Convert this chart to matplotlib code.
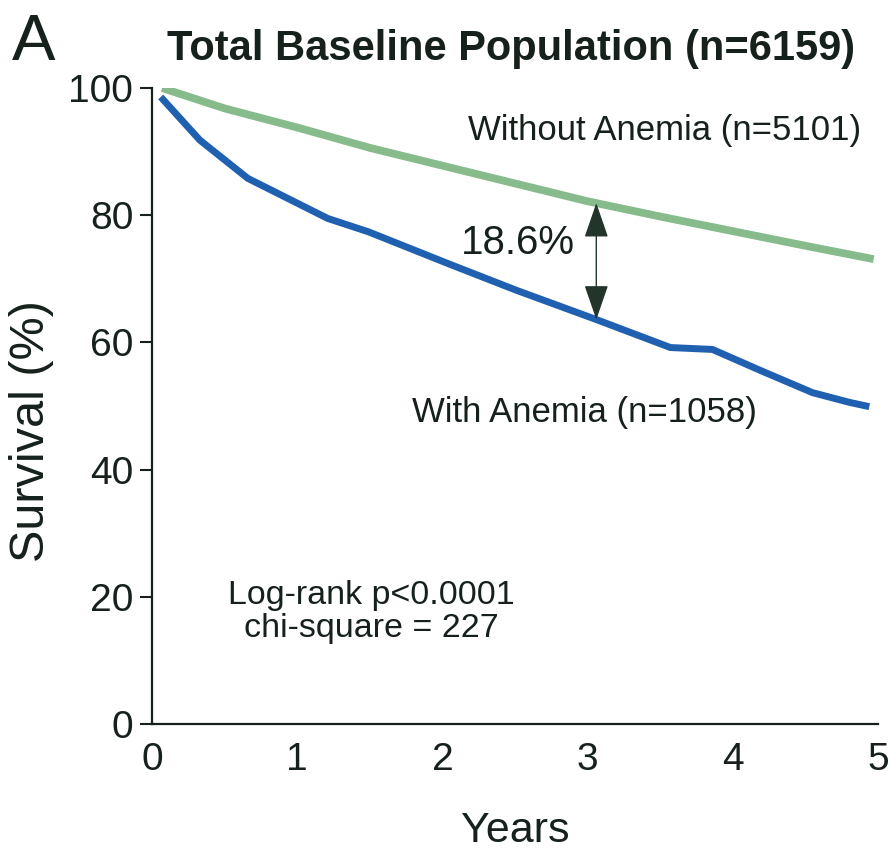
import numpy as np
import matplotlib
matplotlib.use("Agg")
import matplotlib.pyplot as plt

plt.rcParams['font.family'] = ['Liberation Sans', 'DejaVu Sans']

# Kaplan-Meier style survival estimates (%), by years of follow-up
years_no_anemia = [0.07, 0.5, 1.0, 1.5, 2.0, 2.5, 3.0, 3.5, 4.0, 4.5, 4.97]
surv_no_anemia = [100.0, 96.8, 93.8, 90.6, 87.8, 85.0, 82.2, 79.8, 77.5, 75.2, 73.1]

years_anemia = [0.06, 0.33, 0.66, 1.21, 1.49, 2.05, 2.51, 3.06, 3.57, 3.86, 4.2, 4.55, 4.8, 4.94]
surv_anemia = [98.6, 91.8, 85.8, 79.5, 77.4, 72.3, 68.2, 63.6, 59.2, 58.9, 55.5, 52.1, 50.6, 49.9]

x_ticks = [0, 1, 2, 3, 4, 5]
y_ticks = [0, 20, 40, 60, 80, 100]

gap_year = 3.06
gap_label = "18.6%"

green = '#87bb8b'
blue = '#1f60b0'
ink = '#16211b'

fig = plt.figure(figsize=(8.92, 8.5), dpi=100)
ax = fig.add_axes([0.1704, 0.1482, 0.8139, 0.7482])

ax.plot(years_no_anemia, surv_no_anemia, color=green, lw=5.6, solid_capstyle='butt')
ax.plot(years_anemia, surv_anemia, color=blue, lw=5.0, solid_capstyle='butt')

ax.set_xlim(0, 5)
ax.set_ylim(0, 100)
ax.set_xticks(x_ticks)
ax.set_yticks(y_ticks)
ax.tick_params(axis='x', length=0, pad=13, labelsize=28, labelcolor=ink)
ax.tick_params(axis='y', length=8.5, width=1.5, pad=5, labelsize=28,
               labelcolor=ink, color=ink)
for side in ('top', 'right'):
    ax.spines[side].set_visible(False)
for side in ('left', 'bottom'):
    ax.spines[side].set_linewidth(1.6)
    ax.spines[side].set_color(ink)
ax.spines['left'].set_zorder(1)

ax.set_xlabel('Years', fontsize=31, color=ink, labelpad=24)
fig.text(32 / 892, 1 - 431 / 850, 'Survival (%)', fontsize=35, color=ink,
         rotation=90, ha='center', va='center')

# difference arrow between the two curves
g_top = np.interp(gap_year, years_no_anemia, surv_no_anemia)
b_bot = np.interp(gap_year, years_anemia, surv_anemia)
ax.annotate('', xy=(gap_year, g_top), xytext=(gap_year, b_bot),
            arrowprops=dict(arrowstyle='<|-|>,head_length=1.1,head_width=0.38',
                            lw=1.0, color='#22352b', shrinkA=0, shrinkB=0,
                            mutation_scale=20))
ax.text(2.52, 75.6, gap_label, fontsize=29, color=ink, ha='center', va='center')

ax.text(3.53, 93.4, 'Without Anemia (n=5101)', fontsize=25, color=ink,
        ha='center', va='center')
ax.text(2.98, 49.0, 'With Anemia (n=1058)', fontsize=25, color=ink,
        ha='center', va='center')
ax.text(1.51, 17.6, 'Log-rank p<0.0001\nchi-square = 227', fontsize=24.5,
        color=ink, ha='center', va='center', linespacing=1.1)

fig.text(511 / 892, 1 - 60 / 850, 'Total Baseline Population (n=6159)',
         fontsize=30, fontweight='bold', color=ink, ha='center', va='baseline')
fig.text(12 / 892, 1 - 60 / 850, 'A', fontsize=47, color=ink,
         ha='left', va='baseline')

fig.savefig('out.png', dpi=100, facecolor='white')
